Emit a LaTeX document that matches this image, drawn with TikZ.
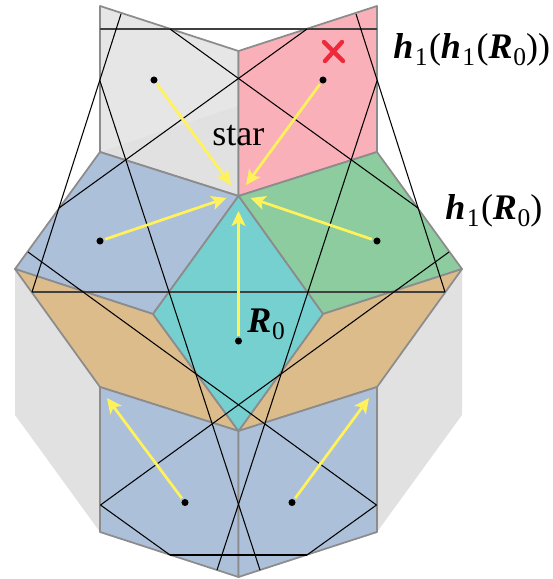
\documentclass[tikz,border=0pt]{standalone}
\usepackage{fontspec}
\setmainfont{Liberation Serif}
\usetikzlibrary{arrows.meta}
\definecolor{facegray}{HTML}{E6E6E6}
\definecolor{sidegray}{HTML}{E1E1E1}
\definecolor{facepink}{HTML}{FAB0B8}
\definecolor{faceblue}{HTML}{ADC0D9}
\definecolor{facegreen}{HTML}{8CCC9E}
\definecolor{faceteal}{HTML}{76D0D0}
\definecolor{facetan}{HTML}{DDBC8C}
\definecolor{edgegray}{HTML}{8C8C8C}
\definecolor{arrowyellow}{HTML}{FFF25A}
\definecolor{crossred}{HTML}{EE2A3A}
\newcommand{\hone}{\textbf{\textit{h}}\hspace{0.04em}\raisebox{-0.2em}{\fontsize{14.5}{14.5}\selectfont 1}\hspace{0.04em}}
\newcommand{\Rzero}{\textbf{\textit{R}}\hspace{0.02em}\raisebox{-0.2em}{\fontsize{14.5}{14.5}\selectfont 0}}
\begin{document}
\begin{tikzpicture}[x=0.02cm, y=-0.02cm,
        face/.style={draw=edgegray, line width=1pt, line join=round},
        wire/.style={black, line width=0.6pt},
        level/.style={black!75, line width=0.75pt},
        dotnode/.style={circle, fill=black, minimum size=4pt, inner sep=0pt, outer sep=1pt},
        flow/.style={arrowyellow, line width=1.55pt, -{Stealth[length=8.5pt, width=8pt, inset=2pt]}},
        lbl/.style={anchor=base west, inner sep=0pt, font=\fontsize{20.5}{20.5}\selectfont}]
    \useasboundingbox (0,0) rectangle (552,579);

    % Vertices
    \coordinate (tl) at (100,6);
    \coordinate (tr) at (377,6);
    \coordinate (tn) at (238.5,51);
    \coordinate (c) at (238.5,196);
    \coordinate (ul) at (100,152);
    \coordinate (ur) at (377,152);
    \coordinate (sm) at (238.5,106);
    \coordinate (wl) at (15,269);
    \coordinate (wr) at (462,269);
    \coordinate (ml) at (153,314);
    \coordinate (mr) at (323,314);
    \coordinate (b) at (238.5,431);
    \coordinate (dl) at (100,387);
    \coordinate (dr) at (377,387);
    \coordinate (el) at (100,532);
    \coordinate (er) at (377,532);
    \coordinate (e) at (238.5,577);
    \coordinate (gl) at (15,415);
    \coordinate (gr) at (462,415);

    % Faces
    \fill[sidegray] (wl) -- (dl) -- (el) -- (gl) -- cycle;
    \fill[sidegray] (wr) -- (dr) -- (er) -- (gr) -- cycle;
    \fill[facegray] (tl) -- (tn) -- (c) -- (ul) -- cycle;
    \fill[sidegray] (ul) -- (sm) -- (c) -- cycle;
    \draw[face] (tl) -- (tn) -- (c) -- (ul) -- cycle;
    \draw[face, fill=facepink] (tr) -- (tn) -- (c) -- (ur) -- cycle;
    \draw[face, fill=faceblue] (ul) -- (c) -- (ml) -- (wl) -- cycle;
    \draw[face, fill=facegreen] (ur) -- (c) -- (mr) -- (wr) -- cycle;
    \draw[face, fill=facetan] (wl) -- (ml) -- (b) -- (dl) -- cycle;
    \draw[face, fill=facetan] (wr) -- (mr) -- (b) -- (dr) -- cycle;
    \draw[face, fill=faceteal] (c) -- (mr) -- (b) -- (ml) -- cycle;
    \draw[face, fill=faceblue] (dl) -- (b) -- (e) -- (el) -- cycle;
    \draw[face, fill=faceblue] (dr) -- (b) -- (e) -- (er) -- cycle;

    % Wire ends
    \coordinate (p1) at (100,29);
    \coordinate (p2) at (377,29);
    \coordinate (p3) at (121,14);
    \coordinate (p4) at (356,14);
    \coordinate (p5) at (32,292);
    \coordinate (p6) at (445,292);
    \coordinate (p7) at (28,252);
    \coordinate (p8) at (449,252);
    \coordinate (p9) at (376.5,505);
    \coordinate (p10) at (100.5,505);
    \coordinate (p11) at (100,81);
    \coordinate (p12) at (377,81);
    \coordinate (p13) at (260,570);
    \coordinate (p14) at (217,570);
    \coordinate (p15) at (59,208);
    \coordinate (p16) at (418,208);
    \coordinate (p17) at (307,29);
    \coordinate (p18) at (170,29);
    \coordinate (p19) at (170,555);
    \coordinate (p20) at (307,555);

    % Wires
    \draw[level] (p1) -- (p2);
    \draw[level] (p5) -- (p6);
    \draw[wire] (p19) -- (p20);
    \draw[wire] (p3) -- (p5);
    \draw[wire] (p4) -- (p6);
    \draw[wire] (p7) -- (p9);
    \draw[wire] (p8) -- (p10);
    \draw[wire] (p11) -- (p13);
    \draw[wire] (p12) -- (p14);
    \draw[wire] (p15) -- (p17);
    \draw[wire] (p16) -- (p18);
    \draw[wire] (p10) -- (p19);
    \draw[wire] (p9) -- (p20);

    % Points
    \node[dotnode] (n1) at (154,80) {};
    \node[dotnode] (n2) at (323,80) {};
    \node[dotnode] (n3) at (100,241) {};
    \node[dotnode] (n4) at (377,241) {};
    \node[dotnode] (n5) at (238.5,341) {};
    \node[dotnode] (n6) at (185,502.5) {};
    \node[dotnode] (n7) at (292,502.5) {};

    % Arrow tips
    \coordinate (t1) at (231,185);
    \coordinate (t2) at (246,185);
    \coordinate (t3) at (226.5,198);
    \coordinate (t4) at (250.5,198);
    \coordinate (t5) at (238.5,211);
    \coordinate (t6) at (107,398);
    \coordinate (t7) at (369,398);

    % Arrows
    \draw[flow] (n1) -- (t1);
    \draw[flow] (n2) -- (t2);
    \draw[flow] (n3) -- (t3);
    \draw[flow] (n4) -- (t4);
    \draw[flow] (n5) -- (t5);
    \draw[flow] (n6) -- (t6);
    \draw[flow] (n7) -- (t7);

    % Cross
    \draw[crossred, line width=2.5pt, line cap=round] (324,42) -- (343,61);
    \draw[crossred, line width=2.5pt, line cap=round] (342,42) -- (325,61);

    % Labels
    \node[lbl] (star) at (212,145) {star};
    \node[lbl] (r0) at (247,332) {\Rzero};
    \node[lbl] (h1) at (445,219) {\hone(\Rzero)};
    \node[lbl] (h2) at (393,58) {\hone(\hone(\Rzero))};
\end{tikzpicture}
\end{document}
